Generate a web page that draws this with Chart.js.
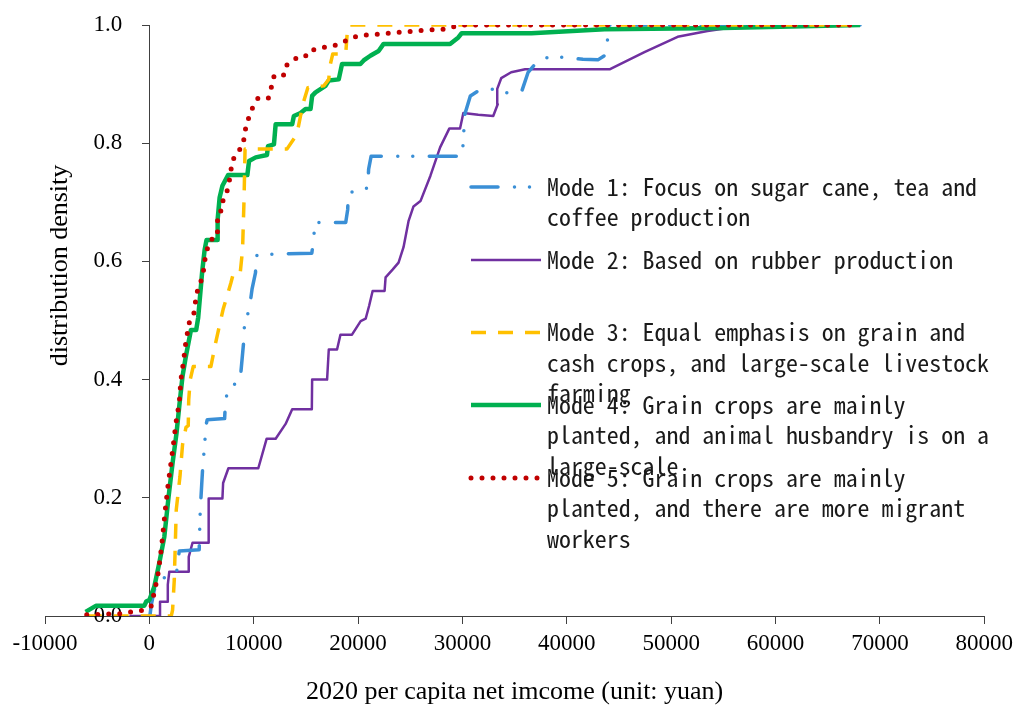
<!DOCTYPE html>
<html>
<head>
<meta charset="utf-8">
<script src="https://cdn.jsdelivr.net/npm/chart.js@4.4.1/dist/chart.umd.min.js"></script>
<style>
  html, body { margin: 0; padding: 0; background: #ffffff; }
  #wrap { width: 1019px; height: 708px; }
</style>
</head>
<body>
<div id="wrap"><canvas id="c" width="1019" height="708"></canvas></div>
<script>
// ---- Data ----
const seriesNames = [
  ["Mode 1: Focus on sugar cane, tea and", "coffee production"],
  ["Mode 2: Based on rubber production"],
  ["Mode 3: Equal emphasis on grain and", "cash crops, and large-scale livestock", "farming"],
  ["Mode 4: Grain crops are mainly", "planted, and animal husbandry is on a", "large-scale"],
  ["Mode 5: Grain crops are mainly", "planted, and there are more migrant", "workers"]
];

const mode1X = [48, 191, 478, 716, 2626, 2865, 4775, 4823, 4871, 5014, 5110, 5253, 5444, 5540, 7211, 7307, 7736, 8691, 8882, 9073, 9121, 9551, 9838, 10172, 10219, 11461, 15568, 15759, 15854, 18815, 19006, 19054, 20057, 20916, 21012, 21251, 29990, 30086, 30229, 30755, 31901, 33429, 34670, 35721, 36294, 37345, 38682, 41547, 42980, 43600, 43900, 44125, 68100];
const mode1Y = [0, 0.019, 0.044, 0.058, 0.076, 0.110, 0.112, 0.146, 0.176, 0.222, 0.251, 0.281, 0.324, 0.332, 0.334, 0.368, 0.388, 0.397, 0.434, 0.471, 0.502, 0.515, 0.553, 0.581, 0.610, 0.612, 0.614, 0.641, 0.666, 0.666, 0.688, 0.715, 0.722, 0.724, 0.756, 0.778, 0.778, 0.807, 0.849, 0.880, 0.893, 0.890, 0.883, 0.890, 0.920, 0.942, 0.947, 0.942, 0.941, 0.948, 0.975, 1.0, 1.0];

const mode2X = [-1910, 1022, 1022, 1719, 1767, 1910, 3753, 3773, 4136, 5635, 5683, 7001, 7068, 7574, 10439, 11241, 12101, 13056, 13687, 15568, 15597, 17030, 17192, 17984, 18309, 19417, 20248, 20726, 21060, 21394, 22540, 22636, 23304, 23878, 24355, 24833, 25310, 25979, 26934, 27860, 28749, 29770, 30086, 31518, 32951, 33381, 33333, 33715, 34670, 36007, 44096, 47439, 50620, 53486, 56637, 68100];
const mode2Y = [0, 0, 0.024, 0.024, 0.053, 0.075, 0.075, 0.100, 0.124, 0.124, 0.199, 0.199, 0.225, 0.250, 0.250, 0.300, 0.300, 0.325, 0.350, 0.350, 0.400, 0.400, 0.451, 0.451, 0.476, 0.476, 0.499, 0.503, 0.525, 0.550, 0.550, 0.573, 0.586, 0.598, 0.624, 0.668, 0.693, 0.702, 0.745, 0.793, 0.825, 0.825, 0.851, 0.848, 0.846, 0.866, 0.892, 0.910, 0.920, 0.925, 0.925, 0.954, 0.980, 0.990, 0.998, 1.0];

const mode3X = [-6000, 2100, 2225, 2388, 2579, 2932, 3180, 3505, 3725, 3773, 3916, 4202, 5893, 6370, 7068, 7803, 8023, 8691, 8930, 9073, 9169, 13180, 14135, 14708, 15186, 16714, 17192, 17287, 17574, 18815, 19006, 19102, 68100];
const mode3Y = [0, 0, 0.010, 0.061, 0.180, 0.236, 0.290, 0.319, 0.322, 0.366, 0.400, 0.422, 0.422, 0.464, 0.519, 0.563, 0.578, 0.578, 0.620, 0.705, 0.790, 0.790, 0.815, 0.866, 0.894, 0.897, 0.908, 0.929, 0.951, 0.951, 0.998, 1.0, 1.0];

const mode4X = [-6113, -5091, -478, -287, 0, 478, 955, 1433, 1843, 2225, 2607, 2865, 3180, 3505, 3983, 4489, 4680, 5062, 5300, 5473, 6523, 6542, 6733, 7001, 7545, 9389, 9551, 10191, 11270, 11366, 11939, 12101, 13687, 13849, 14489, 14966, 15444, 15597, 15922, 16877, 17192, 18147, 18462, 20220, 20535, 21175, 21968, 22445, 28815, 29608, 29923, 36609, 43619, 55000, 68100];
const mode4Y = [0.007, 0.0175, 0.0175, 0.025, 0.027, 0.050, 0.090, 0.134, 0.202, 0.259, 0.310, 0.355, 0.406, 0.440, 0.484, 0.484, 0.505, 0.583, 0.620, 0.636, 0.636, 0.671, 0.708, 0.728, 0.746, 0.746, 0.770, 0.776, 0.780, 0.795, 0.798, 0.832, 0.832, 0.846, 0.851, 0.858, 0.858, 0.880, 0.886, 0.897, 0.906, 0.908, 0.934, 0.934, 0.940, 0.948, 0.956, 0.968, 0.968, 0.979, 0.986, 0.986, 0.993, 0.995, 1.0];

const mode5X = [-6000, -2500, -1700, -793, 162, 382, 793, 1051, 1270, 1528, 1815, 2073, 2321, 2550, 2865, 3028, 3276, 3505, 3820, 4231, 4518, 4776, 5091, 5349, 5568, 5826, 6523, 6542, 7001, 7068, 7421, 7641, 7956, 8434, 9026, 9073, 9293, 9551, 9933, 10411, 11394, 11681, 11939, 12827, 13056, 13687, 14327, 15348, 15759, 16619, 17669, 18462, 19102, 20057, 22283, 24193, 26266, 28338, 29131, 30248, 68100];
const mode5Y = [0.002, 0.004, 0.007, 0.009, 0.016, 0.033, 0.067, 0.100, 0.134, 0.180, 0.225, 0.259, 0.293, 0.327, 0.361, 0.400, 0.431, 0.465, 0.496, 0.508, 0.544, 0.561, 0.572, 0.606, 0.622, 0.636, 0.642, 0.680, 0.688, 0.706, 0.717, 0.734, 0.770, 0.785, 0.797, 0.815, 0.829, 0.845, 0.862, 0.876, 0.876, 0.894, 0.913, 0.913, 0.931, 0.938, 0.948, 0.948, 0.958, 0.962, 0.965, 0.970, 0.976, 0.982, 0.985, 0.988, 0.991, 0.993, 0.997, 1.0, 1.0];

const xTitle = "2020 per capita net imcome (unit: yuan)";
const yTitle = "distribution density";

// ---- Styles ----
const styles = [
  { color: "#3A8FD6", width: 3.5, dash: [27, 16.5, 0, 15, 0, 16.5], cap: "round", order: 4 },
  { color: "#7030A0", width: 2.5, dash: [], cap: "butt", order: 5 },
  { color: "#FFC000", width: 3.5, dash: [15, 12], cap: "butt", order: 2 },
  { color: "#00B050", width: 4.5, dash: [], cap: "butt", order: 3 },
  { color: "#C00000", width: 5, dash: [0, 11], cap: "round", order: 1 }
];

function pts(xs, ys) { return xs.map((x, i) => ({ x: x, y: ys[i] })); }
const seriesX = [mode1X, mode2X, mode3X, mode4X, mode5X];
const seriesY = [mode1Y, mode2Y, mode3Y, mode4Y, mode5Y];

const datasets = seriesX.map((xs, i) => ({
  label: seriesNames[i].join(" "),
  data: pts(xs, seriesY[i]),
  showLine: true,
  fill: false,
  tension: 0,
  borderColor: styles[i].color,
  backgroundColor: styles[i].color,
  borderWidth: styles[i].width,
  borderDash: styles[i].dash,
  borderCapStyle: styles[i].cap,
  borderJoinStyle: "round",
  pointRadius: 0,
  pointHoverRadius: 0,
  order: styles[i].order
}));

const SERIF = "'Liberation Serif', 'Times New Roman', serif";

const yTitlePlugin = {
  id: "yTitleDraw",
  afterDraw(chart) {
    const c = chart.ctx;
    c.save();
    c.font = "26px " + SERIF;
    c.fillStyle = "#000";
    c.textAlign = "center";
    c.textBaseline = "alphabetic";
    c.translate(chart.chartArea.left + 22, 265.5);
    c.rotate(-Math.PI / 2);
    c.fillText(yTitle, 0, 0);
    c.restore();
  }
};

const legendPlugin = {
  id: "sideLegend",
  afterDraw(chart) {
    const c = chart.ctx;
    const sampleYs = [187, 260, 332.5, 405, 478];
    const x0 = 471, x1 = 541, tx = 547, gap = 30.5;
    c.save();
    const fam = "'Noto Sans Mono CJK SC', 'Liberation Mono', monospace";
    c.font = "24px " + fam;
    const adv = c.measureText("MMMMMMMMMM").width / 10;
    const size = 24 * 11.95 / adv;
    styles.forEach((s, i) => {
      const y = sampleYs[i];
      c.beginPath();
      c.strokeStyle = s.color;
      c.lineWidth = s.width;
      c.lineCap = s.cap;
      c.setLineDash(s.dash);
      c.moveTo(x0, y);
      c.lineTo(x1, y);
      c.stroke();
    });
    c.setLineDash([]);
    c.font = size.toFixed(2) + "px " + fam;
    c.fillStyle = "#1a1a1a";
    c.textAlign = "left";
    c.textBaseline = "alphabetic";
    seriesNames.forEach((lines, i) => {
      lines.forEach((t, k) => {
        c.fillText(t, tx, sampleYs[i] + 8.5 + k * gap);
      });
    });
    c.restore();
  }
};

const yTickFont = { family: SERIF, size: 23 };

new Chart(document.getElementById("c"), {
  type: "scatter",
  data: { datasets },
  options: {
    responsive: false,
    animation: false,
    devicePixelRatio: 1,
    layout: { padding: { left: 45, right: 29, top: 25, bottom: 0 } },
    plugins: { legend: { display: false }, tooltip: { enabled: false } },
    scales: {
      x: {
        type: "linear",
        position: "bottom",
        min: -10000,
        max: 80000,
        ticks: {
          stepSize: 10000,
          autoSkip: false,
          maxRotation: 0,
          padding: 6,
          color: "#000",
          font: { family: SERIF, size: 23 },
          callback: (v) => String(v)
        },
        grid: { display: true, drawOnChartArea: false, drawTicks: true, tickLength: 8, color: "#404040", lineWidth: 1 },
        border: { display: true, color: "#404040", width: 1 },
        title: {
          display: true,
          text: xTitle,
          color: "#000",
          font: { family: SERIF, size: 26 },
          padding: { top: 0, bottom: 0 }
        },
        afterFit: (s) => { s.height = 92; }
      },
      // axis line + tick marks crossing at x = 0
      y: {
        type: "linear",
        position: { x: 0 },
        min: 0,
        max: 1,
        ticks: { stepSize: 0.2, display: false },
        grid: { display: true, drawOnChartArea: false, drawTicks: true, tickLength: 7, color: "#404040", lineWidth: 1 },
        border: { display: true, color: "#404040", width: 1 }
      },
      // tick labels of the same scale, set just left of the tick marks
      yLabels: {
        type: "linear",
        axis: "y",
        position: { x: -2600 },
        min: 0,
        max: 1,
        ticks: {
          stepSize: 0.2,
          padding: 0,
          color: "#000",
          font: yTickFont,
          callback: (v) => Number(v).toFixed(1)
        },
        grid: { display: false, drawTicks: false },
        border: { display: false }
      }
    }
  },
  plugins: [yTitlePlugin, legendPlugin]
});
</script>
</body>
</html>
